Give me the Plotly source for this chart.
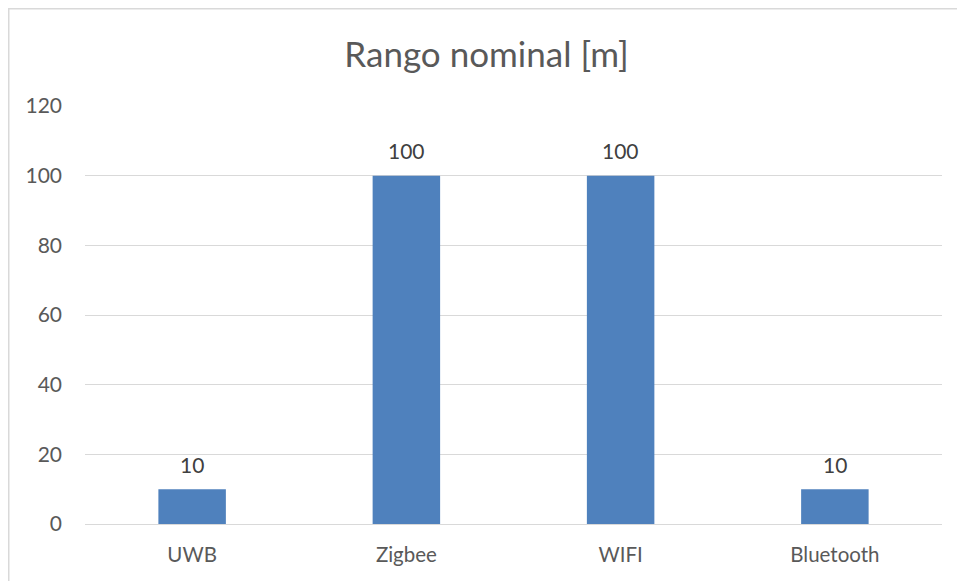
import plotly.graph_objects as go

categories = ["UWB", "Zigbee", "WIFI", "Bluetooth"]
values = [10, 100, 100, 10]
y_ticks = [0, 20, 40, 60, 80, 100, 120]
title_text = "Rango nominal [m]"

FONT = "Lato, Carlito, Calibri, sans-serif"
TXT = "#595959"

fig = go.Figure(
    go.Bar(
        x=categories,
        y=values,
        marker=dict(color="#4f81bd", line=dict(width=0)),
        cliponaxis=False,
    )
)

# the page places the figure at (8, 8); sizes below are figure coordinates
W, H = 957, 573
L, R, T, B = 77, 23, 98, 57
pw, ph = W - L - R, H - T - B

annotations = [
    dict(
        x=c,
        y=v,
        xref="x",
        yref="y",
        text=str(v),
        showarrow=False,
        yanchor="middle",
        yshift=25,
        font=dict(family=FONT, size=21, color="#404040"),
    )
    for c, v in zip(categories, values)
]

fig.update_layout(
    width=W,
    height=H,
    margin=dict(l=L, r=R, t=T, b=B),
    paper_bgcolor="white",
    plot_bgcolor="white",
    bargap=0.685,
    showlegend=False,
    title=dict(
        text=title_text,
        x=0.5,
        xanchor="center",
        y=1 - 47 / H,
        yanchor="middle",
        font=dict(family=FONT, size=35, color=TXT),
    ),
    font=dict(family=FONT, color=TXT),
    xaxis=dict(
        showgrid=False,
        showline=False,
        zeroline=False,
        tickfont=dict(family=FONT, size=20.5, color=TXT),
        ticks="",
        ticklabelstandoff=16,
    ),
    yaxis=dict(
        range=[0, 120],
        tickvals=y_ticks,
        showgrid=True,
        gridcolor="#d9d9d9",
        gridwidth=1,
        zeroline=True,
        zerolinecolor="#d9d9d9",
        zerolinewidth=1,
        showline=False,
        tickfont=dict(family=FONT, size=21, color=TXT),
        ticks="",
        ticklabelstandoff=22,
    ),
    annotations=annotations,
    shapes=[
        dict(
            type="rect",
            xref="paper",
            yref="paper",
            x0=(0.75 - L) / pw,
            x1=(W + 20 - L) / pw,
            y0=-(B + 20) / ph,
            y1=(H - B - 0.75) / ph,
            line=dict(color="#d9d9d9", width=1.5),
            fillcolor="rgba(0,0,0,0)",
            layer="below",
        )
    ],
)

fig.write_html("out.html")
